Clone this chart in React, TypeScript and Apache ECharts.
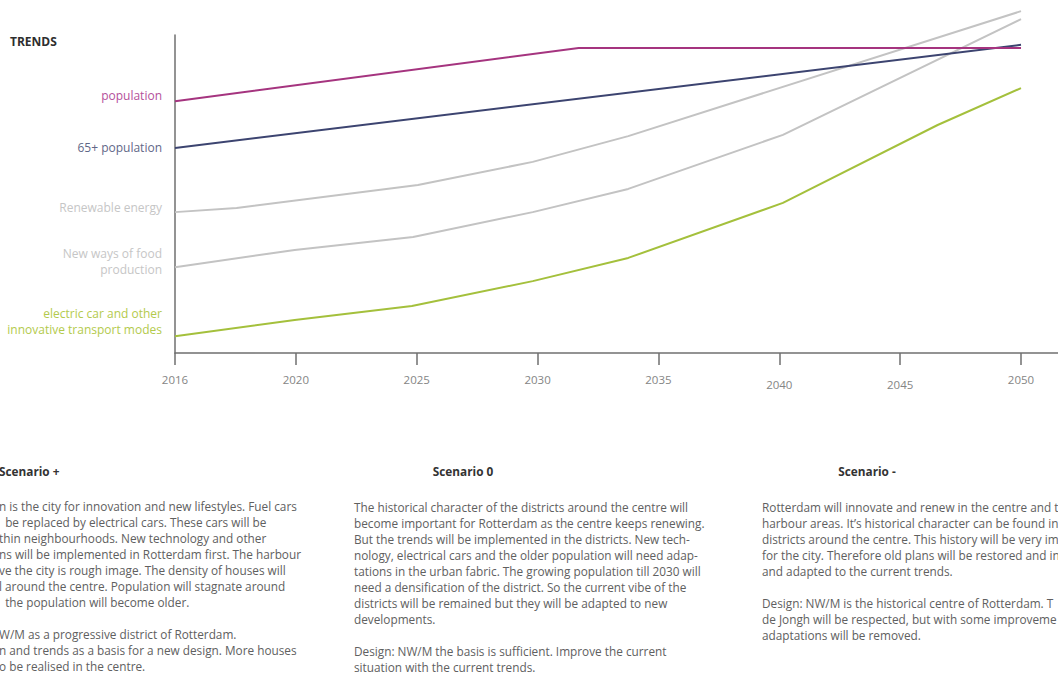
import React, { useEffect, useRef } from "react";
import * as echarts from "echarts";

// ---- data ----
const years = ["2016", "2020", "2025", "2030", "2035", "2040", "2045", "2050"];
const lowYears = ["2040", "2045"];

const seriesNames = [
  "Renewable energy",
  "New ways of food\nproduction",
  "electric car and other\ninnovative transport modes",
  "65+ population",
  "population",
];

// [position along the time axis (tick index), trend level]
const renewableData = [[0, 44.3], [0.51, 45.6], [2.01, 52.8], [2.96, 60.1], [3.75, 68.2], [7, 107.5]];
const foodData = [[0, 27.0], [0.99, 32.4], [1.97, 36.5], [2.96, 44.3], [3.75, 51.6], [5.03, 68.6], [7, 105.0]];
const transportData = [[0, 5.3], [0.99, 10.4], [1.96, 14.8], [2.96, 22.6], [3.75, 29.9], [5.03, 47.2], [6.31, 71.7], [7, 83.3]];
const seniorsData = [[0, 64.5], [7, 96.9]];
const populationData = [[0, 79.2], [3.34, 95.9], [7, 95.9]];

const scenarioTitles = ["Scenario +", "Scenario 0", "Scenario -"];
const scenarioPlus = [
  "n is the city for innovation and new lifestyles. Fuel cars",
  "  be replaced by electrical cars. These cars will be",
  "thin neighbourhoods. New technology and other",
  "ns will be implemented in Rotterdam first. The harbour",
  "ve the city is rough image. The density of houses will",
  "l around the centre. Population will stagnate around",
  "  the population will become older.",
  "",
  "W/M as a progressive district of Rotterdam.",
  "n and trends as a basis for a new design. More houses",
  "o be realised in the centre.",
];
const scenarioZero = [
  "The historical character of the districts around the centre will",
  "become important for Rotterdam as the centre keeps renewing.",
  "But the trends will be implemented in the districts. New tech-",
  "nology, electrical cars and the older population will need adap-",
  "tations in the urban fabric. The growing population till 2030 will",
  "need a densification of the district. So the current vibe of the",
  "districts will be remained but they will be adapted to new",
  "developments.",
  "",
  "Design: NW/M the basis is sufficient. Improve the current",
  "situation with the current trends.",
];
const scenarioMinus = [
  "Rotterdam will innovate and renew in the centre and t",
  "harbour areas. It\u2019s historical character can be found in",
  "districts around the centre. This history will be very im",
  "for the city. Therefore old plans will be restored and in",
  "and adapted to the current trends.",
  "",
  "Design: NW/M is the historical centre of Rotterdam. T",
  "de Jongh will be respected, but with some improveme",
  "adaptations will be removed.",
];

// ---- styles ----
const lineColors = ["#c3c3c3", "#c3c3c3", "#a4c03c", "#3c4470", "#a5347f"];
const labelColors = ["#c6c6c6", "#c6c6c6", "#b3ca4c", "#5f6787", "#b4509a"];
const labelOffsets = [-5, -5.5, -15, 0, -6];
const seriesData = [renewableData, foodData, transportData, seniorsData, populationData];

const FONT = "'Open Sans', 'DejaVu Sans', sans-serif";

export default function App() {
  const ref = useRef<HTMLDivElement>(null);

  useEffect(() => {
    document.body.style.margin = "0";
    if (!ref.current) return;
    const chart = echarts.init(ref.current, undefined, { renderer: "svg" });

    const series = seriesData.map((d, si) => ({
      type: "line",
      name: seriesNames[si],
      clip: false,
      showSymbol: true,
      symbol: "circle",
      symbolSize: 0,
      lineStyle: { color: lineColors[si], width: 2 },
      itemStyle: { color: lineColors[si] },
      emphasis: { disabled: true },
      data: d.map((p, i) =>
        i === 0
          ? {
              value: p,
              label: {
                show: true,
                position: "left",
                distance: 13,
                offset: [0, labelOffsets[si]],
                formatter: seriesNames[si],
                color: labelColors[si],
                fontFamily: FONT,
                fontSize: 12,
                lineHeight: 16,
                align: "right",
              },
            }
          : { value: p }
      ),
    }));

    const textCol = (lines: string[], x: number, y0: number) =>
      lines.map((t, i) => ({
        type: "text",
        x,
        y: y0 + i * 16,
        style: {
          text: t,
          fill: "#606060",
          font: `11.8px ${FONT}`,
          textAlign: "left",
          textVerticalAlign: "middle",
        },
      }));

    const header = (t: string, x: number, align: string) => ({
      type: "text",
      x,
      y: 471,
      style: {
        text: t,
        fill: "#333333",
        font: `bold 11.8px ${FONT}`,
        textAlign: align,
        textVerticalAlign: "middle",
      },
    });

    chart.setOption({
      animation: false,
      grid: { left: 175, top: 35, right: 0, height: 318, containLabel: false },
      xAxis: {
        type: "value",
        min: 0,
        max: 7.306,
        interval: 1,
        splitLine: { show: false },
        axisLine: { show: true, lineStyle: { color: "#6f6f6f", width: 1.5 } },
        axisTick: { show: true, length: 12, lineStyle: { color: "#6f6f6f", width: 1.5 } },
        axisLabel: {
          margin: 20,
          color: "#858585",
          fontFamily: FONT,
          fontSize: 11.5,
          showMaxLabel: false,
          formatter: (v: number) => {
            const s = years[Math.round(v)] ?? "";
            return lowYears.includes(s) ? `{low|${s}}` : s;
          },
          rich: { low: { padding: [5, 0, 0, 0], color: "#858585", fontFamily: FONT, fontSize: 11.5 } },
        },
      },
      yAxis: {
        type: "value",
        min: 0,
        max: 100,
        splitLine: { show: false },
        axisLabel: { show: false },
        axisTick: { show: false },
        axisLine: { show: true, lineStyle: { color: "#6f6f6f", width: 1.5 } },
      },
      series,
      graphic: [
        {
          type: "text",
          x: 10,
          y: 41,
          style: {
            text: "TRENDS",
            fill: "#2e2e2e",
            font: `bold 12px ${FONT}`,
            textVerticalAlign: "middle",
          },
        },
        header(scenarioTitles[0], -1, "left"),
        header(scenarioTitles[1], 463, "center"),
        header(scenarioTitles[2], 867, "center"),
        ...textCol(scenarioPlus, -1, 506),
        ...textCol(scenarioZero, 354, 507),
        ...textCol(scenarioMinus, 762, 507),
      ],
    });

    return () => chart.dispose();
  }, []);

  return <div ref={ref} style={{ width: 1058, height: 675 }} />;
}
